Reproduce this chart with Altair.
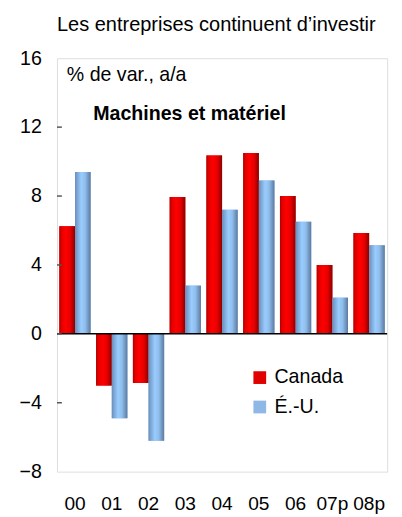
import altair as alt
import pandas as pd

years = ["00", "01", "02", "03", "04", "05", "06", "07p", "08p"]
canada = [6.25, -3.0, -2.85, 7.95, 10.35, 10.5, 8.0, 4.0, 5.85]
usa = [9.4, -4.9, -6.2, 2.8, 7.2, 8.9, 6.5, 2.1, 5.15]
series = ["Canada", "É.-U."]
y_ticks = [-8, -4, 0, 4, 8, 12, 16]

rows = []
for i, yr in enumerate(years):
    rows.append({"year": yr, "series": series[0], "value": canada[i]})
    rows.append({"year": yr, "series": series[1], "value": usa[i]})
df = pd.DataFrame(rows)

FONT = "Liberation Sans"

x_enc = alt.X("year:N", sort=years,
              scale=alt.Scale(paddingInner=0.15, paddingOuter=0.065),
              axis=alt.Axis(title=None, labelAngle=0, labelFontSize=19.5, labelColor="black",
                            labelPadding=24, ticks=False, domain=False, labelFont=FONT))
xo_enc = alt.XOffset("series:N", sort=series, scale=alt.Scale(domain=series))
y_enc = alt.Y("value:Q",
              scale=alt.Scale(domain=[-8, 16], nice=False, zero=False),
              axis=alt.Axis(title=None, values=y_ticks, labelFontSize=20, labelColor="black",
                            labelPadding=16, ticks=False, domain=False, grid=False,
                            labelFont=FONT))

base = alt.Chart(df)

legend_layer = base.mark_bar().encode(
    x=x_enc, xOffset=xo_enc, y=y_enc, y2=alt.datum(0),
    color=alt.Color("series:N", sort=series,
                    scale=alt.Scale(domain=series, range=["#e00000", "#8fb8e6"]),
                    legend=alt.Legend(title=None, orient="none", legendX=197, legendY=316,
                                      symbolType="square", symbolSize=169, symbolStrokeWidth=0,
                                      labelFontSize=20, labelFont=FONT, labelColor="black",
                                      labelOffset=5, rowPadding=10, padding=0)),
)

red_grad = alt.Gradient(gradient="linear", x1=0, x2=1, y1=0, y2=0, stops=[
    alt.GradientStop(offset=0, color="#b00000"),
    alt.GradientStop(offset=0.15, color="#e40000"),
    alt.GradientStop(offset=0.4, color="#ff0000"),
    alt.GradientStop(offset=0.7, color="#e60000"),
    alt.GradientStop(offset=1, color="#8c0000"),
])
blue_grad = alt.Gradient(gradient="linear", x1=0, x2=1, y1=0, y2=0, stops=[
    alt.GradientStop(offset=0, color="#6a8fbb"),
    alt.GradientStop(offset=0.4, color="#99ccff"),
    alt.GradientStop(offset=0.65, color="#90beec"),
    alt.GradientStop(offset=1, color="#5a7aa0"),
])

can_layer = base.transform_filter(alt.datum.series == "Canada").mark_bar(fill=red_grad).encode(
    x=x_enc, xOffset=xo_enc, y=y_enc, y2=alt.datum(0))
us_layer = base.transform_filter(alt.datum.series == "É.-U.").mark_bar(fill=blue_grad).encode(
    x=x_enc, xOffset=xo_enc, y=y_enc, y2=alt.datum(0))

zero_line = alt.Chart(pd.DataFrame({"v": [0]})).mark_rule(color="black", strokeWidth=1.5).encode(
    y=alt.Y("v:Q"))

tick_df = pd.DataFrame({"v": y_ticks[1:-1]})
ticks_in = alt.Chart(tick_df).mark_rule(color="#555555", strokeWidth=1.5).encode(
    y=alt.Y("v:Q"), x=alt.value(0), x2=alt.value(5))

unit_txt = alt.Chart(pd.DataFrame({"t": ["% de var., a/a"]})).mark_text(
    align="left", baseline="alphabetic", fontSize=20, font=FONT, color="black").encode(
    text="t:N", x=alt.value(10), y=alt.value(23))
sub_txt = alt.Chart(pd.DataFrame({"t": ["Machines et matériel"]})).mark_text(
    align="left", baseline="alphabetic", fontSize=20, font=FONT, fontWeight="bold",
    color="black").encode(text="t:N", x=alt.value(37), y=alt.value(63))

chart = alt.layer(legend_layer, can_layer, us_layer, zero_line, ticks_in, unit_txt, sub_txt).properties(
    width=337, height=422,
    autosize=alt.AutoSizeParams(type="none"),
    padding={"left": 50, "top": 46, "right": 7, "bottom": 40},
    title=alt.TitleParams("Les entreprises continuent d\u2019investir", anchor="start",
                          fontSize=20.4, font=FONT, fontWeight="normal", color="black",
                          baseline="alphabetic", offset=-3, frame="group"),
).configure_view(stroke="black", strokeWidth=1.6).configure(background="white")

chart.save("out.html", embed_options={"renderer": "svg", "actions": False})
